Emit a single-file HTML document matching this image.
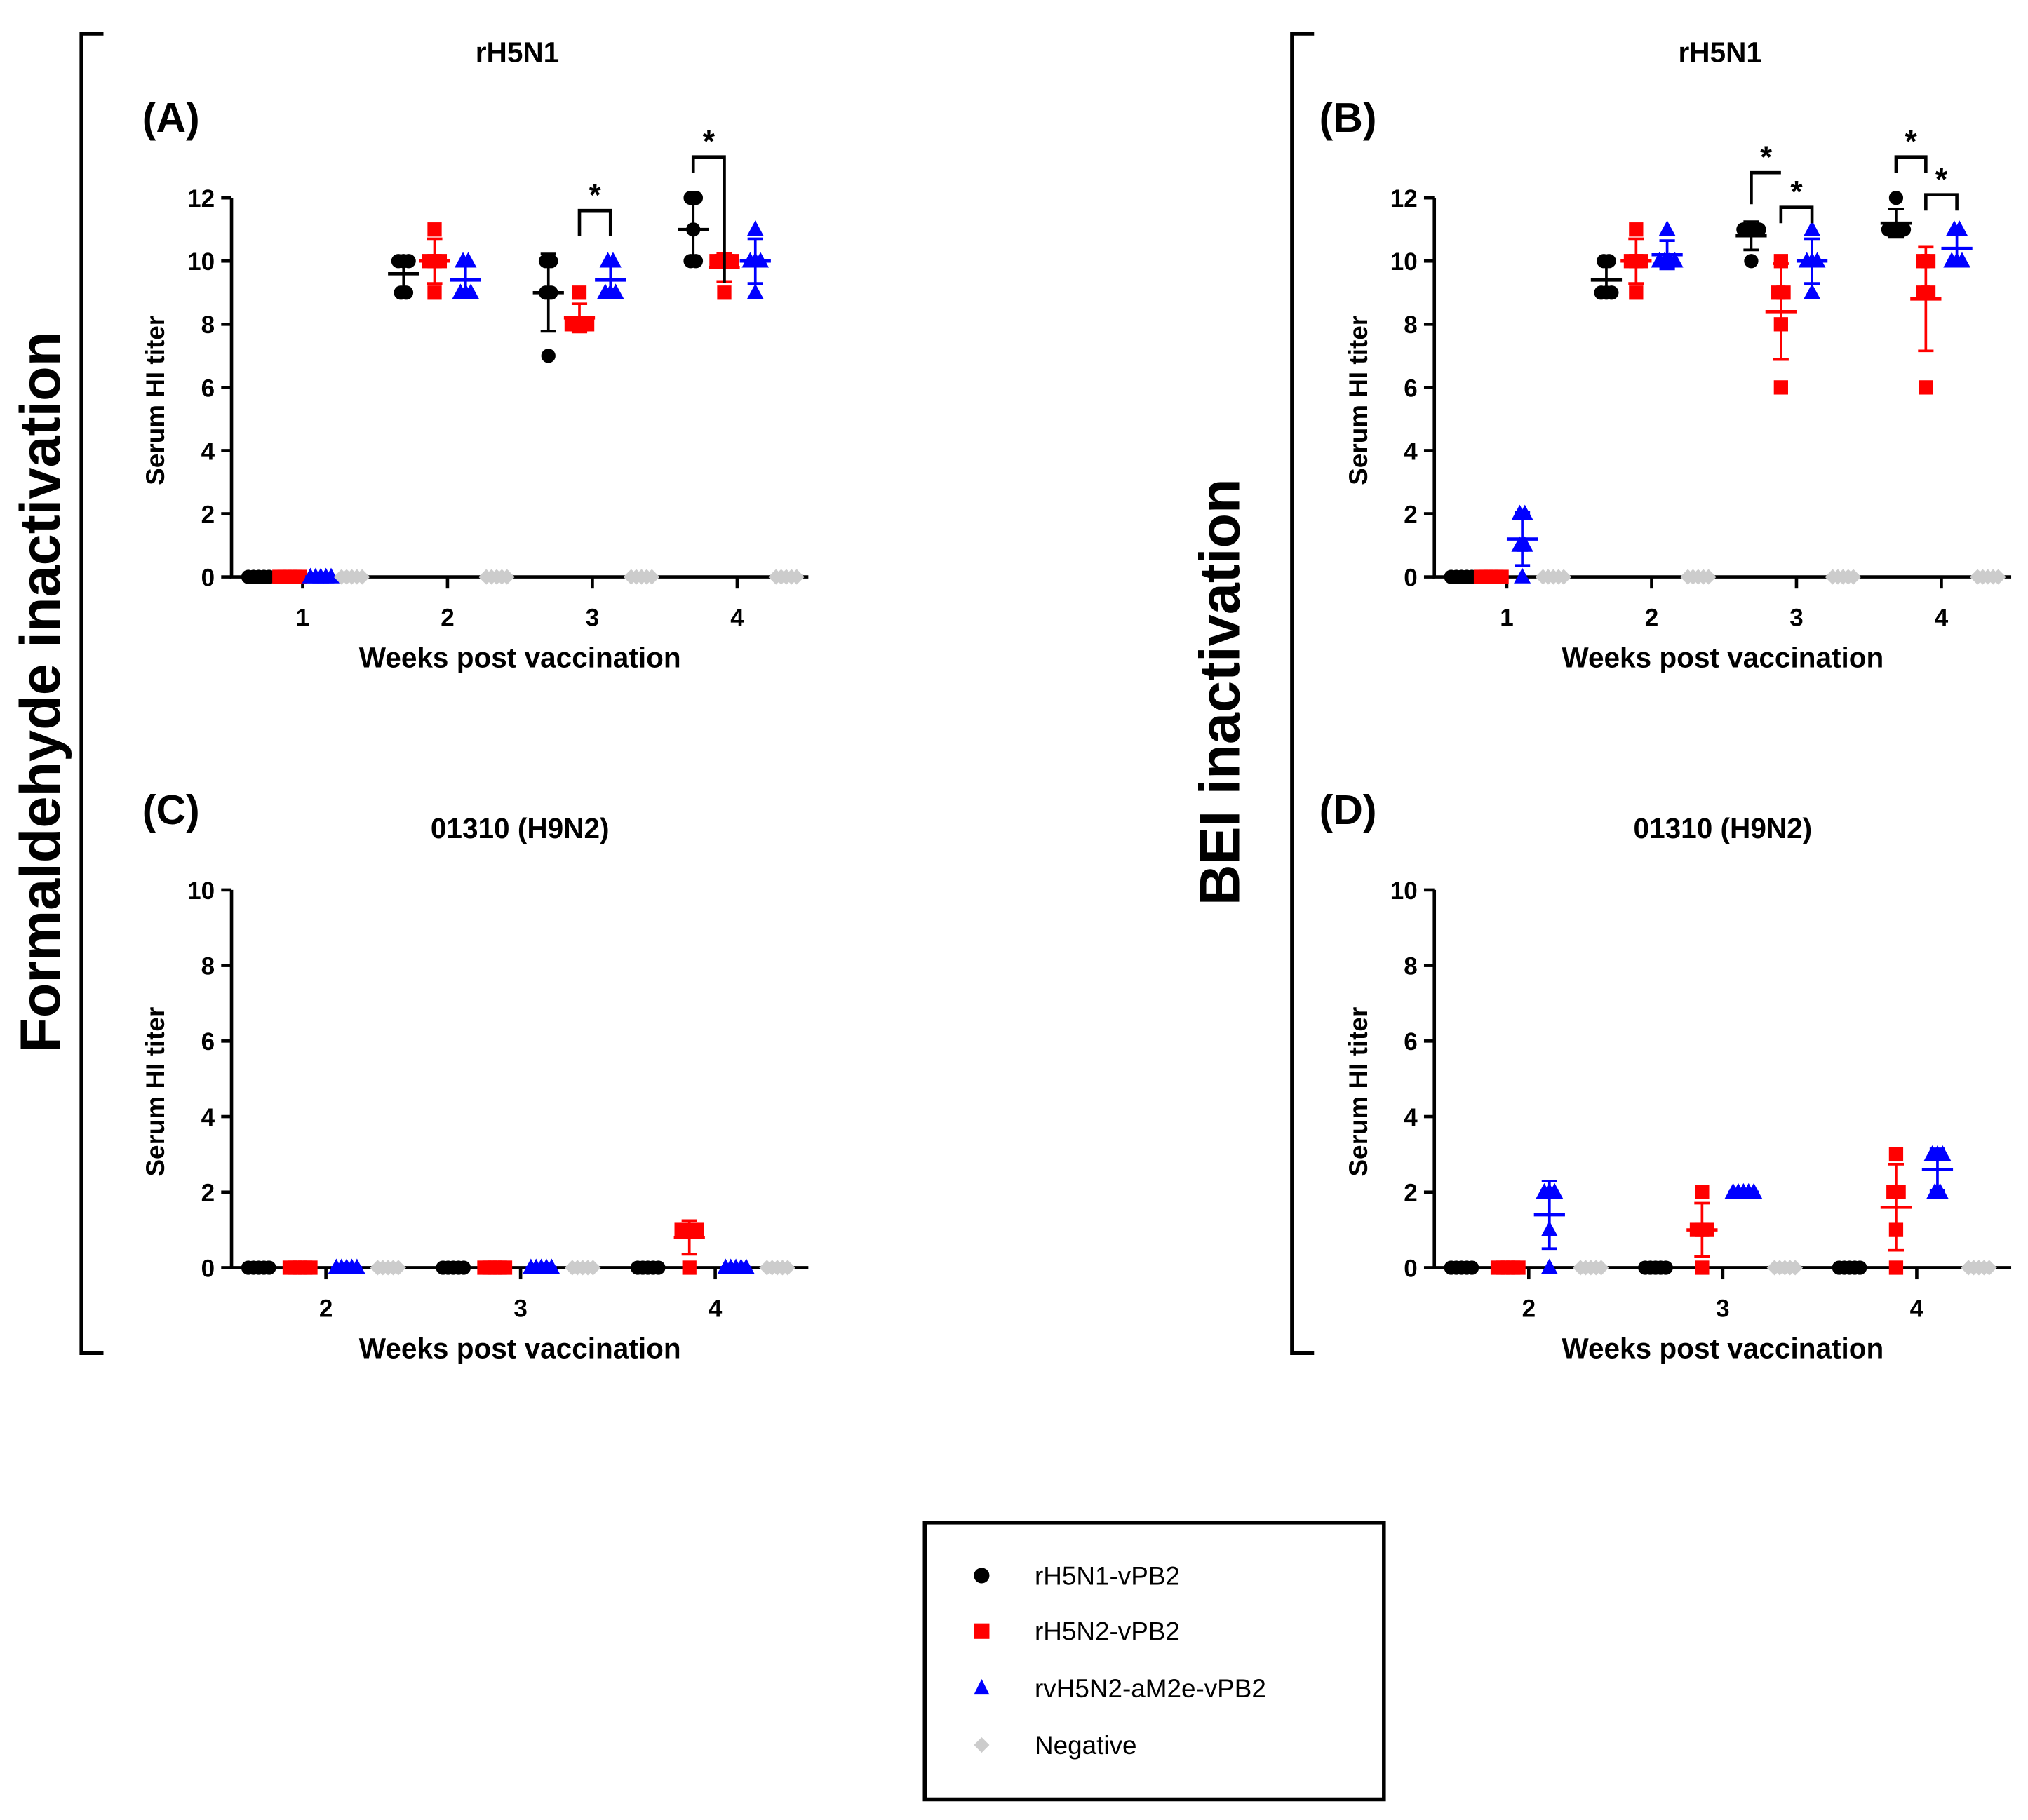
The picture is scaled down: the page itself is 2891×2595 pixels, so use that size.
<!DOCTYPE html>
<html><head><meta charset="utf-8"><style>
html,body{margin:0;padding:0;background:#fff}
svg{display:block}
text{font-family:"Liberation Sans",Arial,sans-serif}
</style></head><body>
<svg id="fig" width="2891" height="2595" viewBox="0 0 1568 1407" preserveAspectRatio="none" xmlns="http://www.w3.org/2000/svg">
<rect width="1568" height="1407" fill="#fff"/>
<g stroke="#000" stroke-width="3" fill="none"><path d="M80 26 H63 V1046 H80"/></g>
<g stroke="#000" stroke-width="3" fill="none"><path d="M1016 26 H999 V1046 H1016"/></g>
<text x="0" y="0" transform="translate(46,535) rotate(-90)" text-anchor="middle" font-size="44" font-weight="bold">Formaldehyde inactivation</text>
<text x="0" y="0" transform="translate(958,535) rotate(-90)" text-anchor="middle" font-size="44" font-weight="bold">BEI inactivation</text>
<g>
<rect x="715" y="1177" width="355" height="214" fill="none" stroke="#000" stroke-width="3"/>
<circle cx="759" cy="1218" r="6" fill="#000"/>
<text x="800" y="1225" font-size="20">rH5N1-vPB2</text>
<rect x="753" y="1255" width="12" height="12" fill="#f00"/>
<text x="800" y="1268" font-size="20">rH5N2-vPB2</text>
<path d="M759 1298 L765 1310 L753 1310Z" fill="#00f"/>
<text x="800" y="1312" font-size="20">rvH5N2-aM2e-vPB2</text>
<path d="M759 1343 L765 1349 L759 1355 L753 1349Z" fill="#ccc"/>
<text x="800" y="1356" font-size="20">Negative</text>
</g>
</svg>
<script>
// ---- data ----
const weeksAB = [1, 2, 3, 4];
const weeksCD = [2, 3, 4];
const groupNames = ["rH5N1", "rH5N2", "rvH5N2", "Negative"];
// values per week: [black, red, blue, gray]
const panelA = [
  [[0,0,0,0,0],[0,0,0,0,0],[0,0,0,0,0],[0,0,0,0,0]],
  [[10,10,9,9,10],[11,10,10,9,10],[10,9,9,10,9],[0,0,0,0,0]],
  [[10,10,9,9,7],[9,8,8,8,8],[10,9,9,10,9],[0,0,0,0,0]],
  [[12,12,11,10,10],[10,10,10,10,9],[11,10,10,9,10],[0,0,0,0,0]]
];
const panelB = [
  [[0,0,0,0,0],[0,0,0,0,0],[2,2,1,1,0],[0,0,0,0,0]],
  [[10,9,9,9,10],[11,10,10,9,10],[11,10,10,10,10],[0,0,0,0,0]],
  [[11,11,11,11,10],[10,9,9,8,6],[11,10,10,9,10],[0,0,0,0,0]],
  [[12,11,11,11,11],[10,10,9,9,6],[11,11,10,10,10],[0,0,0,0,0]]
];
const panelC = [
  [[0,0,0,0,0],[0,0,0,0,0],[0,0,0,0,0],[0,0,0,0,0]],
  [[0,0,0,0,0],[0,0,0,0,0],[0,0,0,0,0],[0,0,0,0,0]],
  [[0,0,0,0,0],[1,1,1,1,0],[0,0,0,0,0],[0,0,0,0,0]]
];
const panelD = [
  [[0,0,0,0,0],[0,0,0,0,0],[2,2,1,2,0],[0,0,0,0,0]],
  [[0,0,0,0,0],[2,1,1,1,0],[2,2,2,2,2],[0,0,0,0,0]],
  [[0,0,0,0,0],[3,2,2,1,0],[3,3,2,3,2],[0,0,0,0,0]]
];
const ticksAB = [0,2,4,6,8,10,12];
const ticksCD = [0,2,4,6,8,10];
// significance: [weekIndex, groupFrom, groupTo, barValue, legFromValue, legToValue]
const sigA = [[2,1,2,11.6,10.8,10.8],[3,0,1,13.3,12.8,9.3]];
const sigB = [[2,0,1,12.8,11.8,12.8],[2,1,2,11.7,11.2,11.2],[3,0,1,13.3,12.8,12.8],[3,1,2,12.1,11.6,11.6]];

const colors = ["#000","#f00","#00f","#ccc"];
const svg = document.getElementById('fig');
const NS = "http://www.w3.org/2000/svg";
function mk(tag, attrs, parent){const e=document.createElementNS(NS,tag);for(const k in attrs)e.setAttribute(k,attrs[k]);(parent||svg).appendChild(e);return e;}

function panel(cfg){
  const g = mk('g',{});
  
  
  const yS = v => cfg.y0 - (cfg.y0 - cfg.yTop) * v / cfg.yMax;
  const xS = i => cfg.xFirst + i * cfg.xStep;
  let t = mk('text',{x:cfg.titleX,y:cfg.titleY,'text-anchor':'middle','font-size':22,'font-weight':'bold'},g);
  t.textContent = cfg.title;
  
  
  t = mk('text',{x:cfg.letterX,y:cfg.letterY,'font-size':32,'font-weight':'bold'},g);
  t.textContent = cfg.letter;
  
  
  const ax = mk('path',{d:`M${cfg.ax} ${yS(cfg.yMax)} V${cfg.y0} H${cfg.axEnd}`,stroke:'#000','stroke-width':2.5,fill:'none'},g);
  
  
  cfg.ticks.forEach(v=>{
    mk('line',{x1:cfg.ax-8,x2:cfg.ax,y1:yS(v),y2:yS(v),stroke:'#000','stroke-width':2.5},g);
    const tl = mk('text',{x:cfg.ax-13,y:yS(v)+7,'text-anchor':'end','font-size':19,'font-weight':'bold'},g);
    tl.textContent = v;
    
    
  });
  cfg.weeks.forEach((w,i)=>{
    mk('line',{x1:xS(i),x2:xS(i),y1:cfg.y0,y2:cfg.y0+9,stroke:'#000','stroke-width':2.5},g);
    const tl = mk('text',{x:xS(i),y:cfg.y0+38,'text-anchor':'middle','font-size':19,'font-weight':'bold'},g);
    tl.textContent = w;
    
    
  });
  let yt = mk('text',{x:0,y:0,transform:`translate(${cfg.ax-52},${(cfg.y0+yS(cfg.yMax))/2+10}) rotate(-90)`,'text-anchor':'middle','font-size':20,'font-weight':'bold'},g);
  yt.textContent = 'Serum HI titer';
  
  
  let xt = mk('text',{x:(cfg.ax+cfg.axEnd)/2,y:cfg.y0+70,'text-anchor':'middle','font-size':22,'font-weight':'bold'},g);
  xt.textContent = 'Weeks post vaccination';
  
  
  cfg.data.forEach((wk,i)=>{
    wk.forEach((vals,gi)=>{
      const cx = xS(i) + cfg.offsets[gi];
      const col = colors[gi];
      const n = vals.length;
      const mean = vals.reduce((a,b)=>a+b,0)/n;
      const sd = Math.sqrt(vals.reduce((a,b)=>a+(b-mean)*(b-mean),0)/(n-1));
      const grp = mk('g',{},g);
      
      
      const counts = {};
      vals.forEach(v=>counts[v]=(counts[v]||0)+1);
      const seen = {};
      vals.forEach(v=>{
        const k = seen[v]||0; seen[v]=k+1;
        const px = cx + (k - (counts[v]-1)/2) * 4;
        const py = yS(v);
        let m;
        if(gi===0) m = mk('circle',{cx:px,cy:py,r:5.5,fill:col},grp);
        else if(gi===1) m = mk('rect',{x:px-5.5,y:py-5.5,width:11,height:11,fill:col},grp);
        else if(gi===2) m = mk('path',{d:`M${px} ${py-7} L${px+6.5} ${py+5} L${px-6.5} ${py+5}Z`,fill:col},grp);
        else m = mk('path',{d:`M${px} ${py-6} L${px+6} ${py} L${px} ${py+6} L${px-6} ${py}Z`,fill:col},grp);
        
        
      });
      if(sd>0){
        mk('line',{x1:cx,x2:cx,y1:yS(mean-sd),y2:yS(mean+sd),stroke:col,'stroke-width':2},grp);
        mk('line',{x1:cx-6,x2:cx+6,y1:yS(mean-sd),y2:yS(mean-sd),stroke:col,'stroke-width':2},grp);
        mk('line',{x1:cx-6,x2:cx+6,y1:yS(mean+sd),y2:yS(mean+sd),stroke:col,'stroke-width':2},grp);
      }
      mk('line',{x1:cx-12,x2:cx+12,y1:yS(mean),y2:yS(mean),stroke:col,'stroke-width':2.5},grp);
    });
  });
  (cfg.sig||[]).forEach(s=>{
    const x1 = xS(s[0])+cfg.offsets[s[1]], x2 = xS(s[0])+cfg.offsets[s[2]];
    const br = mk('path',{d:`M${x1} ${yS(s[4])} V${yS(s[3])} H${x2} V${yS(s[5])}`,stroke:'#000','stroke-width':2.5,fill:'none'},g);
    
    
    const st = mk('text',{x:(x1+x2)/2,y:yS(s[3])-4,'text-anchor':'middle','font-size':24,'font-weight':'bold'},g);
    st.textContent = '*';
    
    
  });
}
panel({name:'panel-a',title:'rH5N1',titleX:400,titleY:48,letter:'(A)',letterX:110,letterY:102,ax:179,axEnd:625,y0:446,yTop:153,yMax:12,ticks:ticksAB,weeks:weeksAB,xFirst:234,xStep:112,offsets:[-34,-10,14,38],data:panelA,sig:sigA});
panel({name:'panel-b',title:'rH5N1',titleX:1330,titleY:48,letter:'(B)',letterX:1020,letterY:102,ax:1109,axEnd:1555,y0:446,yTop:153,yMax:12,ticks:ticksAB,weeks:weeksAB,xFirst:1165,xStep:112,offsets:[-35,-12,12,36],data:panelB,sig:sigB});
panel({name:'panel-c',title:'01310 (H9N2)',titleX:402,titleY:648,letter:'(C)',letterX:110,letterY:637,ax:179,axEnd:625,y0:980,yTop:688,yMax:10,ticks:ticksCD,weeks:weeksCD,xFirst:252,xStep:150.5,offsets:[-52,-20,16,48],data:panelC});
panel({name:'panel-d',title:'01310 (H9N2)',titleX:1332,titleY:648,letter:'(D)',letterX:1020,letterY:637,ax:1109,axEnd:1555,y0:980,yTop:688,yMax:10,ticks:ticksCD,weeks:weeksCD,xFirst:1182,xStep:150,offsets:[-52,-16,16,48],data:panelD});
</script>
</body></html>
